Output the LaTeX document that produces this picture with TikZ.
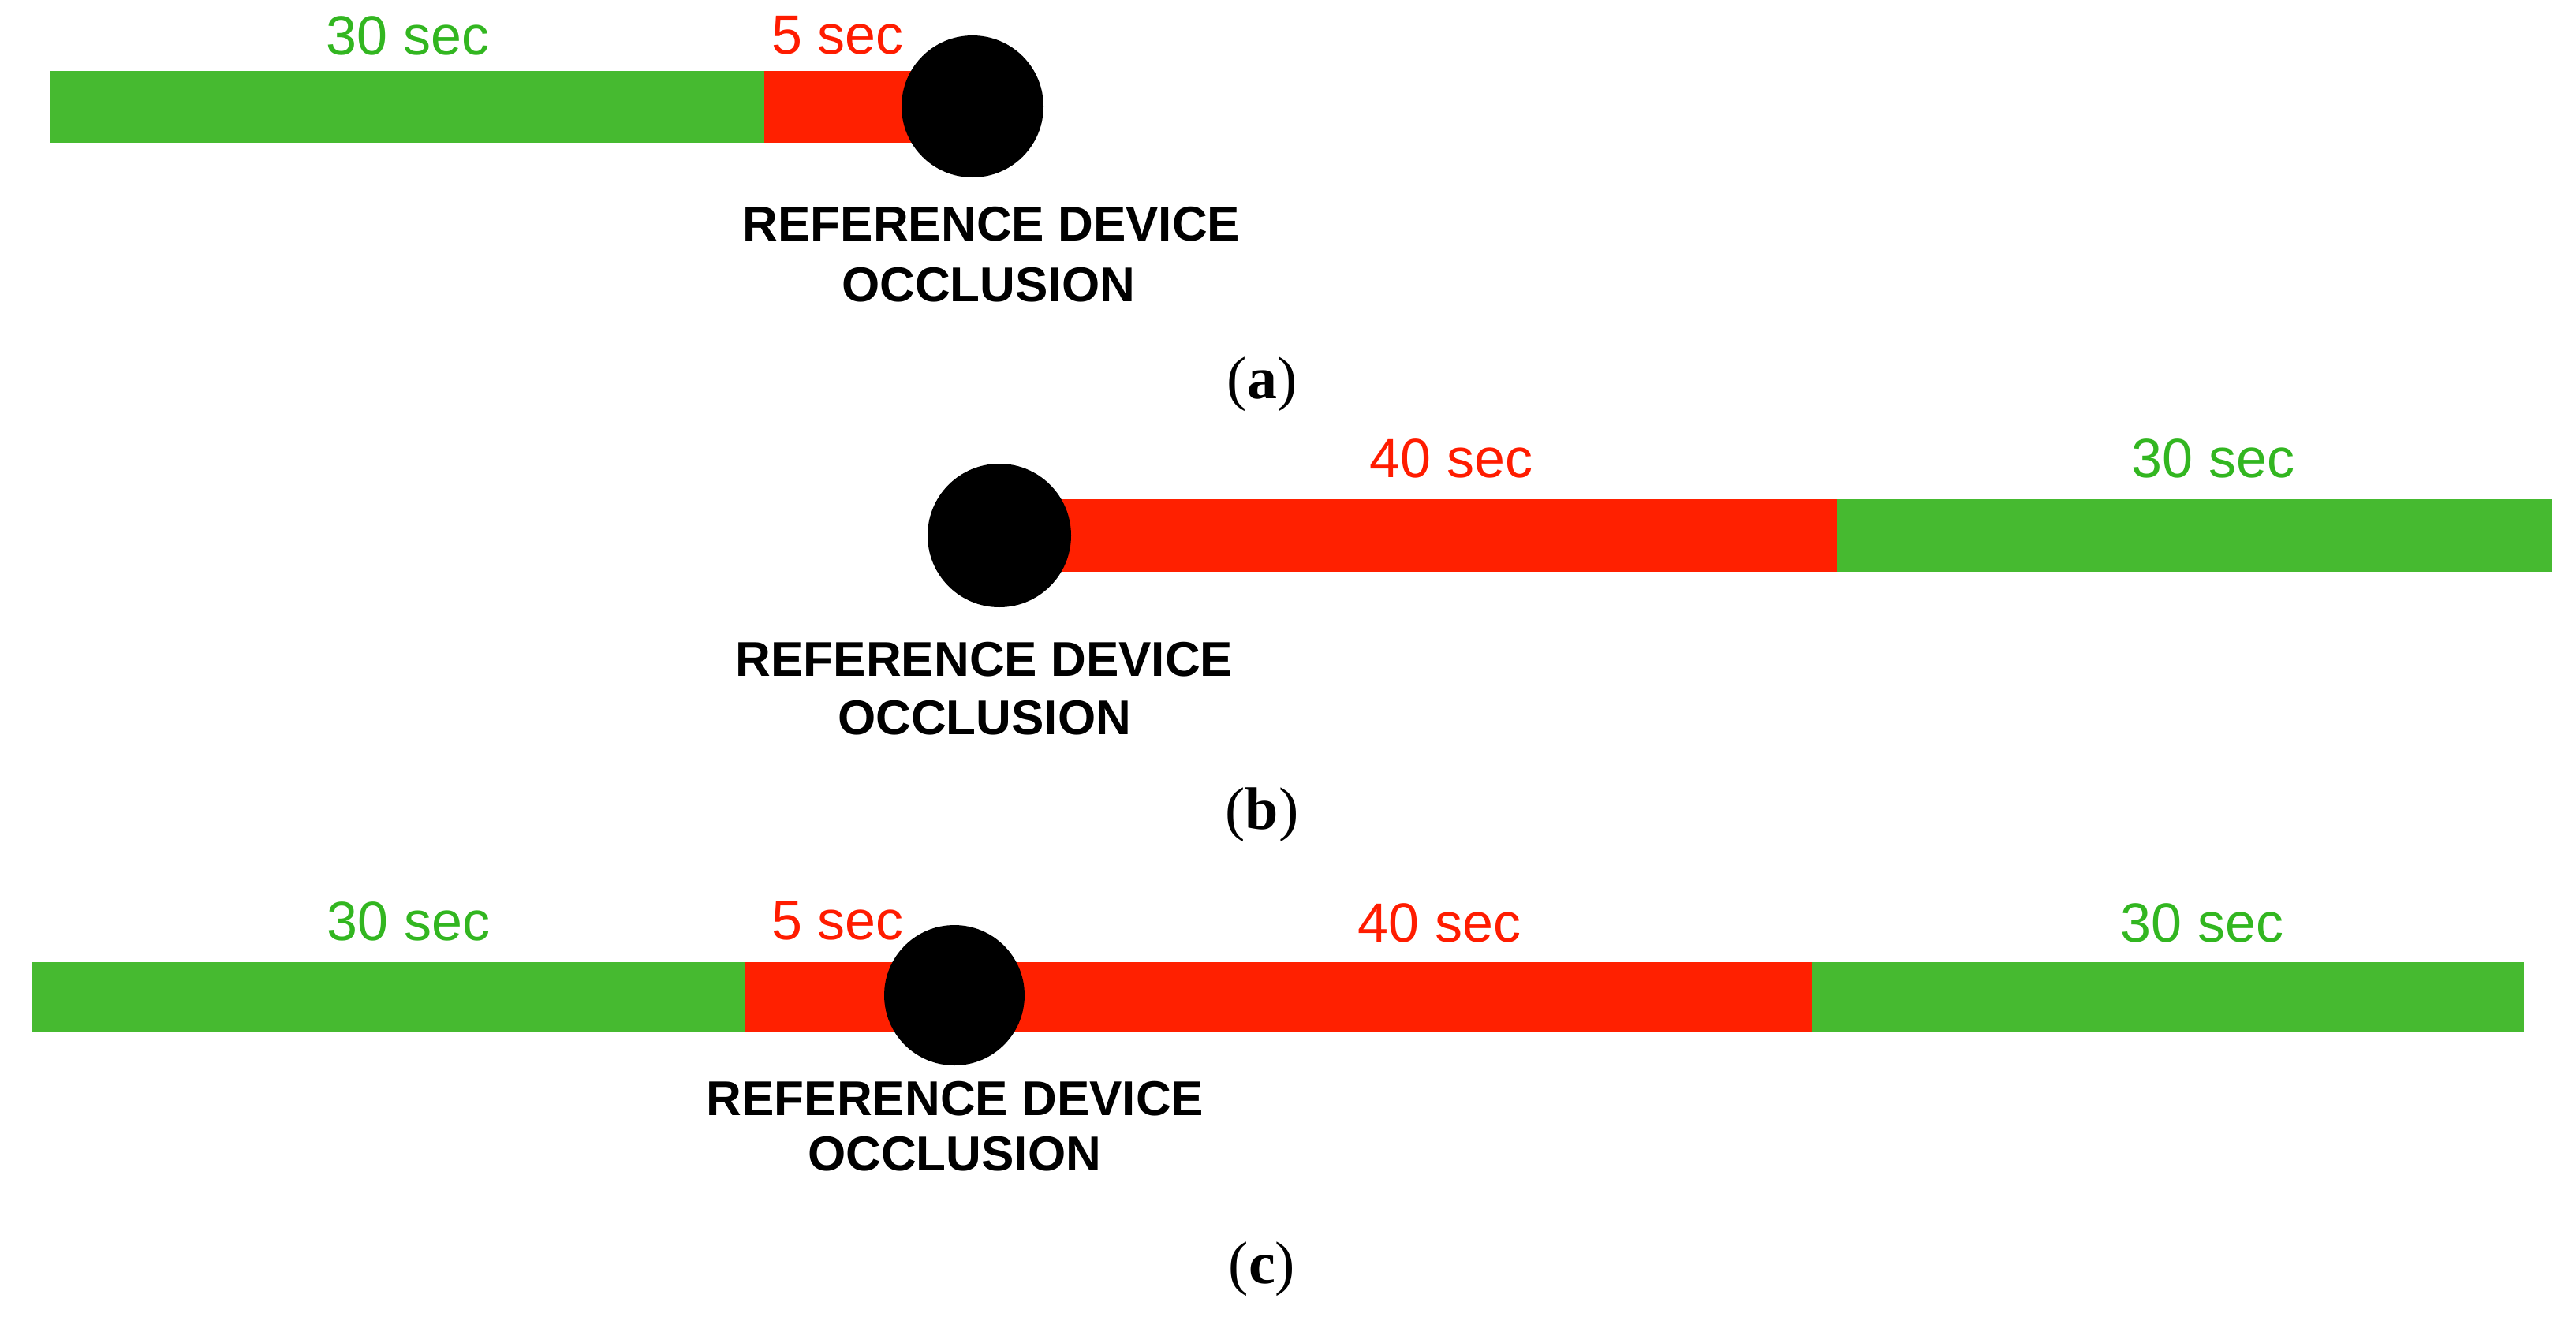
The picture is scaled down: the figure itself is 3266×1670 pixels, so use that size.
\documentclass[tikz,border=0pt]{standalone}
\usepackage{fontspec}
\setmainfont{Liberation Serif}
\newfontfamily\arialf{Liberation Sans}
\definecolor{bargreen}{RGB}{70,186,48}
\definecolor{barred}{RGB}{255,32,0}
\definecolor{txtgreen}{RGB}{50,182,32}
\definecolor{txtred}{RGB}{255,28,0}
\begin{document}
\begin{tikzpicture}[x=0.25pt,y=-0.25pt,
  seglabel/.style={inner sep=0pt,font=\arialf\fontsize{17.5}{20}\selectfont},
  occlabel/.style={inner sep=0pt,font=\arialf\bfseries\fontsize{15.5}{18}\selectfont},
  caplabel/.style={inner sep=0pt,anchor=base,font=\fontsize{19}{22}\selectfont},
  occdot/.style={circle,fill=black,inner sep=0pt}]
\useasboundingbox (0,0) rectangle (3266,1670);
\fill[white] (0,0) rectangle (3266,1670);
% ---- (a)
\fill[bargreen] (64,90) rectangle (969,181);
\fill[barred] (969,90) rectangle (1233,181);
\node[occdot,minimum size=45pt] (dotA) at (1233,135) {};
\node[seglabel,text=txtgreen] (a30) at (517,45) {30 sec};
\node[seglabel,text=txtred] (a5) at (1062,45) {5 sec};
\node[occlabel] (aref) at (1257,284) {REFERENCE DEVICE};
\node[occlabel] (aocc) at (1253,361) {OCCLUSION};
\node[caplabel] (capA) at (1600,505) {(\textbf{a})};
% ---- (b)
\fill[barred] (1267,633) rectangle (2329,725);
\fill[bargreen] (2329,633) rectangle (3235,725);
\node[occdot,minimum size=45.5pt] (dotB) at (1267,679) {};
\node[seglabel,text=txtred] (b40) at (1840,581) {40 sec};
\node[seglabel,text=txtgreen] (b30) at (2806,581) {30 sec};
\node[occlabel] (bref) at (1248,836) {REFERENCE DEVICE};
\node[occlabel] (bocc) at (1248,910) {OCCLUSION};
\node[caplabel] (capB) at (1600,1051) {(\textbf{b})};
% ---- (c)
\fill[bargreen] (41,1220) rectangle (944,1309);
\fill[barred] (944,1220) rectangle (2297,1309);
\fill[bargreen] (2297,1220) rectangle (3200,1309);
\node[occdot,minimum size=44.5pt] (dotC) at (1210,1262) {};
\node[seglabel,text=txtgreen] (c30a) at (518,1168) {30 sec};
\node[seglabel,text=txtred] (c5) at (1062,1168) {5 sec};
\node[seglabel,text=txtred] (c40) at (1825,1170) {40 sec};
\node[seglabel,text=txtgreen] (c30b) at (2792,1170) {30 sec};
\node[occlabel] (cref) at (1211,1393) {REFERENCE DEVICE};
\node[occlabel] (cocc) at (1210,1463) {OCCLUSION};
\node[caplabel] (capC) at (1600,1627) {(\textbf{c})};
\end{tikzpicture}
\end{document}
